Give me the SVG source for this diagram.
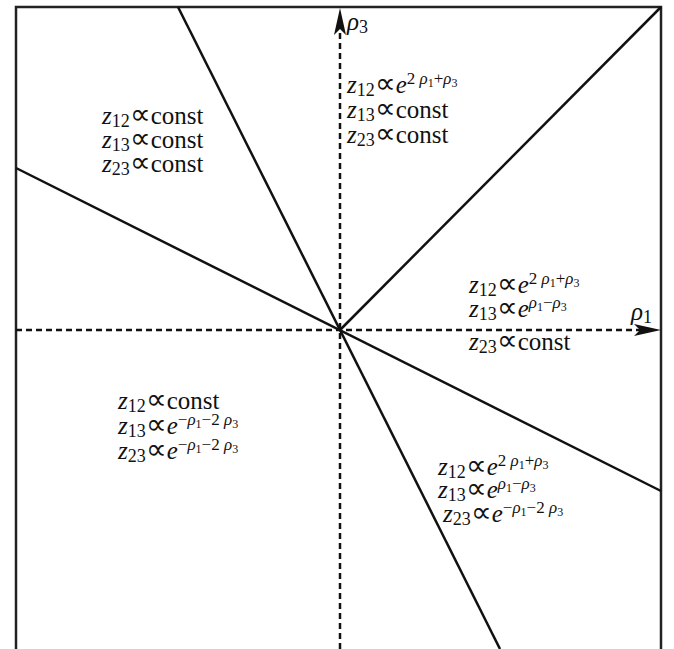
<svg xmlns="http://www.w3.org/2000/svg" width="674" height="649" viewBox="0 0 674 649">
<style>
.bg{fill:#fff}
.frame{fill:none;stroke:#222;stroke-width:2.5}
.ln{stroke:#111;stroke-width:2.5;fill:none}
.ax{stroke:#111;stroke-width:2.5;stroke-dasharray:6 4;fill:none}
.ah{fill:#111}
.lbx{font-size:25px;fill:#111}
.itx{font-style:italic}
.prx{font-size:29px}
.sbx{font-size:18px}
.spx{font-size:17px}
.ssx{font-size:12px}
</style>
<rect class="bg" x="0" y="0" width="674" height="649"/>
<g id="frame">
<path class="frame" d="M16,649 V7 H661 V649"/>
</g>
<g id="connectors">
<line class="ln" x1="340" y1="330" x2="661" y2="7"/>
<line class="ln" x1="178" y1="7" x2="500" y2="649"/>
<line class="ln" x1="16" y1="168" x2="661" y2="491"/>
<line class="ax" x1="340" y1="649" x2="340" y2="30"/>
<line class="ax" x1="16" y1="330" x2="640" y2="330"/>
<polygon class="ah" points="340,8 346,35 340,29 334,35"/>
<polygon class="ah" points="661,330 634,336 640,330 634,324"/>
</g>
<g id="axis-rho3">
<text class="lbx" style="font-family:'Liberation Serif',serif" x="347" y="30"><tspan class="itx">ρ</tspan><tspan class="sbx" dy="3">3</tspan></text>
</g>
<g id="axis-rho1">
<text class="lbx" style="font-family:'Liberation Serif',serif" x="631" y="320"><tspan class="itx">ρ</tspan><tspan class="sbx" dy="3">1</tspan></text>
</g>
<g id="region-top-left">
<text class="lbx" style="font-family:'Liberation Serif',serif" x="102" y="124"><tspan class="itx">z</tspan><tspan class="sbx" dy="3">12</tspan><tspan class="prx" dy="-3">∝</tspan><tspan>const</tspan></text>
<text class="lbx" style="font-family:'Liberation Serif',serif" x="102" y="148"><tspan class="itx">z</tspan><tspan class="sbx" dy="3">13</tspan><tspan class="prx" dy="-3">∝</tspan><tspan>const</tspan></text>
<text class="lbx" style="font-family:'Liberation Serif',serif" x="102" y="172"><tspan class="itx">z</tspan><tspan class="sbx" dy="3">23</tspan><tspan class="prx" dy="-3">∝</tspan><tspan>const</tspan></text>
</g>
<g id="region-top">
<text class="lbx" style="font-family:'Liberation Serif',serif" x="347" y="93"><tspan class="itx">z</tspan><tspan class="sbx" dy="3">12</tspan><tspan class="prx" dy="-3">∝</tspan><tspan class="itx">e</tspan><tspan class="spx" dy="-9">2 </tspan><tspan class="spx itx">ρ</tspan><tspan class="ssx" dy="3">1</tspan><tspan class="spx" dy="-3">+</tspan><tspan class="spx itx">ρ</tspan><tspan class="ssx" dy="3">3</tspan></text>
<text class="lbx" style="font-family:'Liberation Serif',serif" x="347" y="118"><tspan class="itx">z</tspan><tspan class="sbx" dy="3">13</tspan><tspan class="prx" dy="-3">∝</tspan><tspan>const</tspan></text>
<text class="lbx" style="font-family:'Liberation Serif',serif" x="347" y="143"><tspan class="itx">z</tspan><tspan class="sbx" dy="3">23</tspan><tspan class="prx" dy="-3">∝</tspan><tspan>const</tspan></text>
</g>
<g id="region-right">
<text class="lbx" style="font-family:'Liberation Serif',serif" x="469" y="293"><tspan class="itx">z</tspan><tspan class="sbx" dy="3">12</tspan><tspan class="prx" dy="-3">∝</tspan><tspan class="itx">e</tspan><tspan class="spx" dy="-9">2 </tspan><tspan class="spx itx">ρ</tspan><tspan class="ssx" dy="3">1</tspan><tspan class="spx" dy="-3">+</tspan><tspan class="spx itx">ρ</tspan><tspan class="ssx" dy="3">3</tspan></text>
<text class="lbx" style="font-family:'Liberation Serif',serif" x="469" y="317"><tspan class="itx">z</tspan><tspan class="sbx" dy="3">13</tspan><tspan class="prx" dy="-3">∝</tspan><tspan class="itx">e</tspan><tspan class="spx itx" dy="-9">ρ</tspan><tspan class="ssx" dy="3">1</tspan><tspan class="spx" dy="-3">−</tspan><tspan class="spx itx">ρ</tspan><tspan class="ssx" dy="3">3</tspan></text>
<text class="lbx" style="font-family:'Liberation Serif',serif" x="469" y="350"><tspan class="itx">z</tspan><tspan class="sbx" dy="3">23</tspan><tspan class="prx" dy="-3">∝</tspan><tspan>const</tspan></text>
</g>
<g id="region-bottom-left">
<text class="lbx" style="font-family:'Liberation Serif',serif" x="118" y="409"><tspan class="itx">z</tspan><tspan class="sbx" dy="3">12</tspan><tspan class="prx" dy="-3">∝</tspan><tspan>const</tspan></text>
<text class="lbx" style="font-family:'Liberation Serif',serif" x="118" y="434"><tspan class="itx">z</tspan><tspan class="sbx" dy="3">13</tspan><tspan class="prx" dy="-3">∝</tspan><tspan class="itx">e</tspan><tspan class="spx" dy="-9">−</tspan><tspan class="spx itx">ρ</tspan><tspan class="ssx" dy="3">1</tspan><tspan class="spx" dy="-3">−2 </tspan><tspan class="spx itx">ρ</tspan><tspan class="ssx" dy="3">3</tspan></text>
<text class="lbx" style="font-family:'Liberation Serif',serif" x="118" y="459"><tspan class="itx">z</tspan><tspan class="sbx" dy="3">23</tspan><tspan class="prx" dy="-3">∝</tspan><tspan class="itx">e</tspan><tspan class="spx" dy="-9">−</tspan><tspan class="spx itx">ρ</tspan><tspan class="ssx" dy="3">1</tspan><tspan class="spx" dy="-3">−2 </tspan><tspan class="spx itx">ρ</tspan><tspan class="ssx" dy="3">3</tspan></text>
</g>
<g id="region-bottom-right">
<text class="lbx" style="font-family:'Liberation Serif',serif" x="438" y="475"><tspan class="itx">z</tspan><tspan class="sbx" dy="3">12</tspan><tspan class="prx" dy="-3">∝</tspan><tspan class="itx">e</tspan><tspan class="spx" dy="-9">2 </tspan><tspan class="spx itx">ρ</tspan><tspan class="ssx" dy="3">1</tspan><tspan class="spx" dy="-3">+</tspan><tspan class="spx itx">ρ</tspan><tspan class="ssx" dy="3">3</tspan></text>
<text class="lbx" style="font-family:'Liberation Serif',serif" x="438" y="498"><tspan class="itx">z</tspan><tspan class="sbx" dy="3">13</tspan><tspan class="prx" dy="-3">∝</tspan><tspan class="itx">e</tspan><tspan class="spx itx" dy="-9">ρ</tspan><tspan class="ssx" dy="3">1</tspan><tspan class="spx" dy="-3">−</tspan><tspan class="spx itx">ρ</tspan><tspan class="ssx" dy="3">3</tspan></text>
<text class="lbx" style="font-family:'Liberation Serif',serif" x="443" y="522"><tspan class="itx">z</tspan><tspan class="sbx" dy="3">23</tspan><tspan class="prx" dy="-3">∝</tspan><tspan class="itx">e</tspan><tspan class="spx" dy="-9">−</tspan><tspan class="spx itx">ρ</tspan><tspan class="ssx" dy="3">1</tspan><tspan class="spx" dy="-3">−2 </tspan><tspan class="spx itx">ρ</tspan><tspan class="ssx" dy="3">3</tspan></text>
</g>
</svg>
